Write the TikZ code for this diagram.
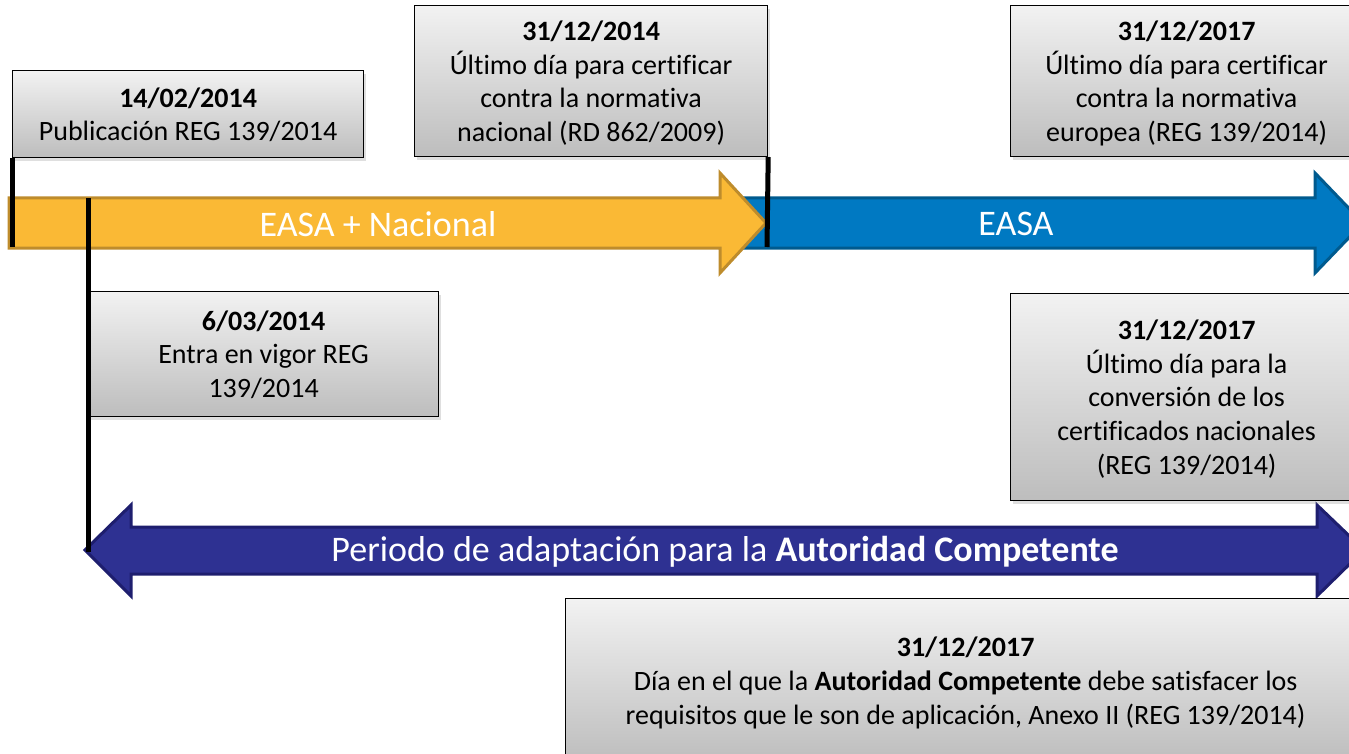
\documentclass[tikz,border=0pt]{standalone}
\usepackage{fontspec}
\setmainfont[Ligatures=NoCommon]{Carlito}
\usetikzlibrary{shadows}
\definecolor{yfill}{HTML}{FAB935}
\definecolor{yline}{HTML}{BE8C2C}
\definecolor{bfill}{HTML}{0079C2}
\definecolor{bline}{HTML}{005A8E}
\definecolor{pfill}{HTML}{2E3192}
\definecolor{pline}{HTML}{1E1E6E}
\definecolor{boxtop}{HTML}{F2F2F2}
\definecolor{boxbot}{HTML}{BDBDBD}
\begin{document}
\begin{tikzpicture}[x=1pt,y=-1pt,
  datebox/.style={draw=black, line width=1.2pt, top color=boxtop, bottom color=boxbot,
    align=center, font=\fontsize{28}{33.6}\selectfont, anchor=north west, inner sep=0pt,
    text depth=0pt, yshift=0pt,
    drop shadow={shadow xshift=2pt,shadow yshift=-3pt,opacity=0.25}},
  arrowlabel/.style={text=white, font=\fontsize{36}{40}\selectfont, inner sep=0pt},
  tick/.style={draw=black, line width=5pt},
  yarrow/.style={fill=yfill, draw=yline, line width=3pt, line join=miter},
  barrow/.style={fill=bfill, draw=bline, line width=3pt, line join=miter},
  parrow/.style={fill=pfill, draw=pline, line width=3pt, line join=miter}]
\useasboundingbox (0,0) rectangle (1349,754);
\clip (0,0) rectangle (1349,754);
% blue arrow (behind yellow head)
\draw[barrow] (735,198) -- (1315,198) -- (1315,173) -- (1363,223) -- (1315,273) -- (1315,248) -- (735,248) -- cycle;
% yellow arrow
\draw[yarrow] (9,198) -- (720,198) -- (720,173) -- (766,223) -- (720,273) -- (720,248) -- (9,248) -- cycle;
% purple double arrow
\draw[parrow] (85,550) -- (131,505) -- (131,527) -- (1317,527) -- (1317,505) -- (1364,550) -- (1317,596) -- (1317,574) -- (131,574) -- (131,596) -- cycle;
% labels
\node[arrowlabel] (l1) at (378,224) {EASA + Nacional};
\node[arrowlabel] (l2) at (1016,224) {EASA};
\node[arrowlabel] (l3) at (725,552) {Periodo de adaptación para la \textbf{Autoridad Competente}};
% boxes
\node[datebox, minimum width=351pt, minimum height=87pt] (b1) at (12,70) {\textbf{14/02/2014}\\Publicación REG 139/2014};
\node[datebox, minimum width=353pt, minimum height=151pt] (b2) at (414,5) {\textbf{31/12/2014}\\Último día para certificar\\contra la normativa\\nacional (RD 862/2009)};
\node[datebox, minimum width=352pt, minimum height=151pt] (b3) at (1010,5) {\textbf{31/12/2017}\\Último día para certificar\\contra la normativa\\europea (REG 139/2014)};
\node[datebox, minimum width=350pt, minimum height=125pt] (b4) at (88,291) {\textbf{6/03/2014}\\Entra en vigor REG\\139/2014};
\node[datebox, minimum width=352pt, minimum height=207pt] (b5) at (1010,293) {\textbf{31/12/2017}\\Último día para la\\conversión de los\\certificados nacionales\\(REG 139/2014)};
\node[datebox, minimum width=800pt, minimum height=164pt] (b6) at (565,598) {\textbf{31/12/2017}\\Día en el que la \textbf{Autoridad Competente} debe satisfacer los\\requisitos que le son de aplicación, Anexo II (REG 139/2014)};
% ticks
\coordinate (t1) at (12,247);
\coordinate (t2) at (88,198);
\coordinate (t3) at (767,247);
\draw[tick] (b1.south west) -- (t1);
\draw[tick] (t2) -- (l3.west -| t2);
\draw[tick] (b2.south east) -- (t3);
\end{tikzpicture}
\end{document}
